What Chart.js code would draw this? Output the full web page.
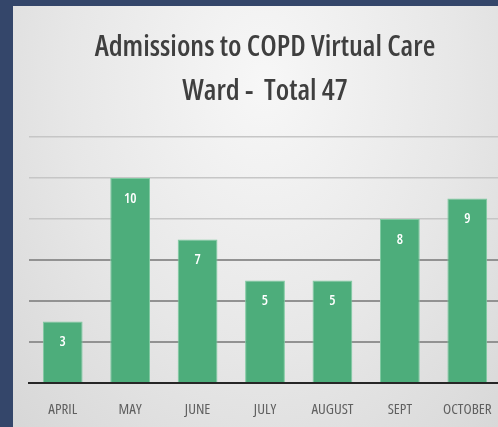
<!DOCTYPE html>
<html>
<head>
<meta charset="utf-8">
<script src="https://cdn.jsdelivr.net/npm/chart.js@4.4.0/dist/chart.umd.min.js"></script>
<style>
  html, body { margin: 0; padding: 0; overflow: hidden; }
  body { width: 498px; height: 427px; background: #34466a; position: relative; }
  .panel {
    position: absolute; left: 13px; top: 6px; width: 502px; height: 421px;
    background: radial-gradient(ellipse at 50% 18%, #f7f7f7 0%, #e7e7e7 55%, #d7d7d7 100%);
  }
</style>
</head>
<body>
<div class="panel"><canvas id="chart" width="502" height="421"></canvas></div>
<script>
const months = ['APRIL', 'MAY', 'JUNE', 'JULY', 'AUGUST', 'SEPT', 'OCTOBER']
const admissions = [3, 10, 7, 5, 5, 8, 9]
const titleLines = ['Admissions to COPD Virtual Care', 'Ward -  Total 47']

const family = '"Open Sans", sans-serif'

// white value labels just under the top of each bar
const barLabels = {
  id: 'barLabels',
  afterDatasetsDraw(chart) {
    const ctx = chart.ctx
    const meta = chart.getDatasetMeta(0)
    ctx.save()
    ctx.fillStyle = '#ffffff'
    ctx.font = '600 condensed 14px ' + family
    ctx.textAlign = 'center'
    ctx.textBaseline = 'middle'
    meta.data.forEach((bar, i) => {
      ctx.fillText(String(admissions[i]), bar.x, bar.y + 21)
    })
    ctx.restore()
  }
}

new Chart(document.getElementById('chart'), {
  type: 'bar',
  data: {
    labels: months,
    datasets: [{
      data: admissions,
      backgroundColor: '#4dad7b',
      borderColor: '#7fcaa1',
      borderWidth: 1,
      categoryPercentage: 1,
      barPercentage: 0.59
    }]
  },
  options: {
    responsive: false,
    animation: false,
    layout: { padding: { left: 16, right: 14, top: 0, bottom: 0 } },
    plugins: {
      legend: { display: false },
      tooltip: { enabled: false },
      title: {
        display: true,
        text: titleLines,
        color: '#3f3f3f',
        font: { family: family, size: 29, weight: '600 condensed', lineHeight: '44px' },
        padding: { top: 20, bottom: 23 }
      }
    },
    scales: {
      x: {
        grid: { display: false },
        border: { color: '#262626', width: 2 },
        ticks: {
          color: '#606060',
          padding: 10,
          font: { family: family, size: 15, weight: 'condensed' }
        },
        afterFit: (scale) => { scale.height = 44 }
      },
      y: {
        min: 0,
        max: 12,
        ticks: { display: false, stepSize: 2 },
        border: { display: false },
        grid: {
          drawTicks: false,
          color: (c) => {
            const v = c.tick.value
            if (v === 0) return 'rgba(0,0,0,0)'
            return v >= 8 ? '#c6c6c6' : '#929292'
          },
          lineWidth: (c) => c.tick.value >= 8 ? 1.5 : 2
        },
        afterFit: (scale) => { scale.width = 0 }
      }
    }
  },
  plugins: [barLabels]
})
</script>
</body>
</html>
